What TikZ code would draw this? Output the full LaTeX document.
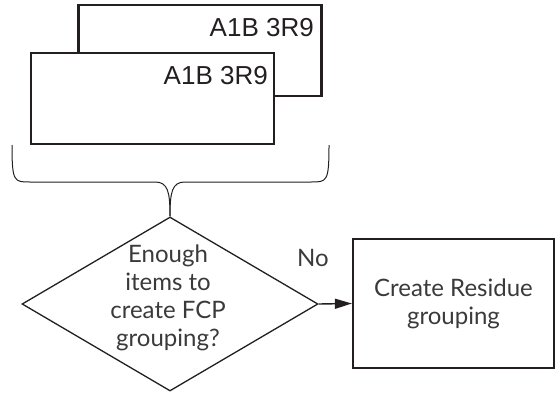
\documentclass[tikz,border=0pt]{standalone}
\usepackage{fontspec}
\setmainfont{Lato}
\newfontfamily\cardfont{Liberation Sans}
\usetikzlibrary{arrows.meta,positioning,shapes.geometric}
\definecolor{figink}{HTML}{231F20}
\definecolor{figtext}{HTML}{3A3A3A}
\tikzset{
  card/.style={draw=figink,line width=2.2pt,fill=white,minimum width=243pt,minimum height=91pt},
  cardtxt/.style={anchor=east,font=\cardfont\fontsize{26}{26}\selectfont,text=figink,inner sep=0pt},
  decide/.style={diamond,draw=figink,line width=1.3pt,minimum width=296pt,minimum height=174pt,inner sep=0pt},
  proc/.style={draw=figink,line width=2.2pt,minimum width=201pt,minimum height=129pt},
  lbl/.style={font=\fontsize{24}{28}\selectfont,text=figtext,align=center,inner sep=0pt},
  ar/.style={-{Triangle[length=17pt,width=10pt]},draw=figink,line width=1.4pt},
  brace/.style={draw=figink,line width=1pt},
}
\begin{document}
\begin{tikzpicture}[x=1pt,y=-1pt]
  \useasboundingbox (0,0) rectangle (556,393);
  % stacked cards
  \node[card] (back) at (200,50.5) {};
  \node[cardtxt] (backtxt) at (314,28) {A1B 3R9};
  \node[card] (front) at (152.5,98.5) {};
  \node[cardtxt] (fronttxt) at (268,76) {A1B 3R9};
  % decision and outcome
  \node[decide] (dec) at (170,304) {};
  \node[lbl] (q) at (168,298) {Enough\\items to\\create FCP\\grouping?};
  \node[proc,lbl] (resid) at (453.5,303.5) {Create Residue\\grouping};
  \draw[ar] (dec.east) -- (resid.west);
  \node[lbl] (no) at (313,258) {No};
  % brace
  \draw[brace] (12,145) .. controls (12,182) and (14,182) .. (30,182) -- (155,182)
    .. controls (168,182) and (170,192) .. (dec.north);
  \draw[brace] (329,145) .. controls (329,182) and (327,182) .. (311,182) -- (185,182)
    .. controls (172,182) and (170,192) .. (dec.north);
\end{tikzpicture}
\end{document}
